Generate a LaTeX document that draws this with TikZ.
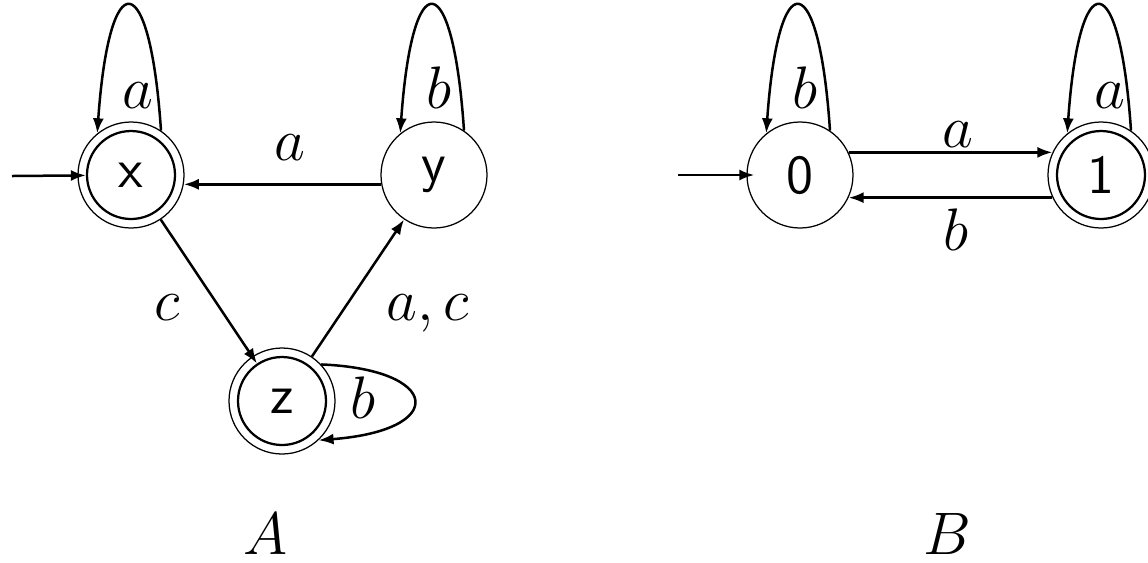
\documentclass[tikz,border=0pt]{standalone}
\usetikzlibrary{arrows.meta}

\begin{document}
\begin{tikzpicture}[
  x=0.2pt, y=-0.2pt,
  state/.style={draw, circle, line width=0.25pt, minimum size=21.2pt,
                inner sep=0pt, font=\sffamily\fontsize{11}{13}\selectfont},
  accin/.style={draw, circle, line width=0.45pt, minimum size=17.6pt,
                inner sep=0pt},
  lbl/.style={anchor=base, inner sep=0pt, font=\fontsize{11.5}{14}\selectfont},
  trans/.style={line width=0.5pt, -{Latex[length=3pt,width=2.2pt]}}
]
  \useasboundingbox (0,0) rectangle (1148,562);

  % automaton A
  \node[state] (x) at (131,175) {x};
  \node[accin] (x-in) at (x) {};
  \node[state] (y) at (434,175) {y};
  \node[state] (z) at (282,401) {z};
  \node[accin] (z-in) at (z) {};
  \coordinate (x-init) at (12,176);

  \draw[trans] (x-init) -- (x-in);
  \draw[trans] (y.190) -- (x.-10);
  \draw[trans] (x) -- (z-in);
  \draw[trans] (z) -- (y);
  \draw[trans] (x.56) .. controls +(-11,-165) and +(12,-172) .. (x.129);
  \draw[trans] (y.56) .. controls +(-11,-165) and +(12,-172) .. (y.129);
  \draw[trans] (z.43) .. controls +(120,5) and +(130,-10) .. (z.-47);

  \node[lbl] (lx) at (138,108) {$a$};
  \node[lbl] (ly) at (439,108) {$b$};
  \node[lbl] (lyx) at (290,160) {$a$};
  \node[lbl] (lxz) at (167,320) {$c$};
  \node[lbl] (lzy) at (428,320) {$a,c$};
  \node[lbl] (lz) at (363,418) {$b$};
  \node[lbl] (capA) at (266,554) {$A$};

  % automaton B
  \node[state] (zero) at (800,175) {0};
  \node[state] (one) at (1101,175) {1};
  \node[accin] (one-in) at (one) {};
  \coordinate (zero-init) at (678,175);

  \draw[trans, shorten >=-1.6pt] (zero-init) -- (zero);
  \draw[trans] (zero.25) -- (one.155);
  \draw[trans] (one.205) -- (zero.-25);
  \draw[trans] (zero.56) .. controls +(-11,-165) and +(12,-172) .. (zero.129);
  \draw[trans] (one.56) .. controls +(-11,-165) and +(12,-172) .. (one.129);

  \node[lbl] (lzero) at (805,108) {$b$};
  \node[lbl] (lone) at (1110,108) {$a$};
  \node[lbl] (l01) at (958,147) {$a$};
  \node[lbl] (l10) at (956,250) {$b$};
  \node[lbl] (capB) at (947,554) {$B$};
\end{tikzpicture}
\end{document}
